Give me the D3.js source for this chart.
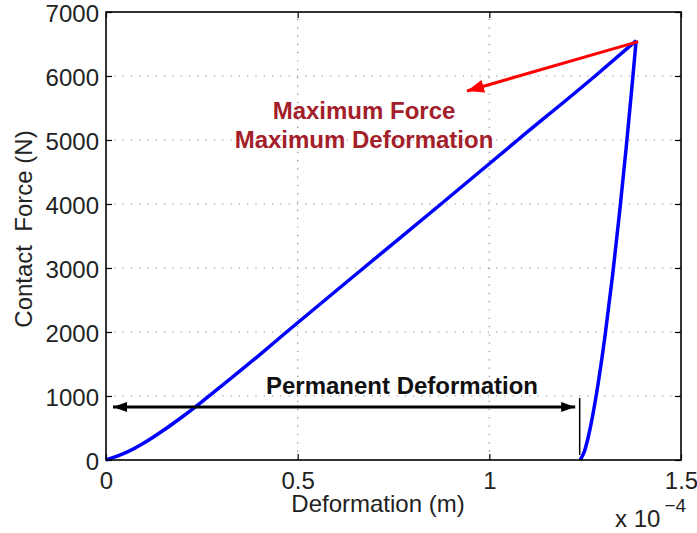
<!DOCTYPE html>
<html>
<head>
<meta charset="utf-8">
<script src="https://cdn.jsdelivr.net/npm/d3@7"></script>
<style>
  html, body { margin: 0; padding: 0; background: #fff; }
  svg { display: block; font-family: "Liberation Sans", Arial, Helvetica, sans-serif; }
</style>
</head>
<body>
<svg id="chart" width="697" height="533"></svg>
<script>
// Loading branch: deformation (×1e-4 m) and contact force (N)
const loadDeformation = [0, 0.05, 0.10, 0.15, 0.20, 0.25, 0.30, 0.40, 0.471, 0.672, 0.874, 1.074, 1.276, 1.383];
const loadForce       = [0, 110, 270, 465, 680, 910, 1150, 1640, 2000, 3000, 4000, 5000, 6000, 6552];

// Unloading branch, from the permanent deformation up to the peak
const unloadDeformation = [1.237, 1.248, 1.260, 1.278, 1.302, 1.322, 1.341, 1.357, 1.370, 1.383];
const unloadForce       = [0, 135, 410, 980, 1950, 2910, 3940, 4880, 5700, 6552];

// Axis ticks
const xTicks = [0, 0.5, 1, 1.5];
const xTickLabels = ["0", "0.5", "1", "1.5"];
const yTicks = [0, 1000, 2000, 3000, 4000, 5000, 6000, 7000];
const yTickLabels = ["0", "1000", "2000", "3000", "4000", "5000", "6000", "7000"];

// Annotated quantities
const peakDeformation = 1.383, peakForce = 6552;
const permanentDeformation = 1.237;
const maxLabelLines = ["Maximum Force", "Maximum Deformation"];
const permanentLabel = "Permanent Deformation";

const svg = d3.select("#chart");
const plotLeft = 106, plotRight = 681, plotTop = 12, plotBottom = 460;

const x = d3.scaleLinear().domain([0, 1.5]).range([plotLeft, plotRight]);
const y = d3.scaleLinear().domain([0, 7000]).range([plotBottom, plotTop]);

const defs = svg.append("defs");
function arrowMarker(id, color, w, h) {
  defs.append("marker")
    .attr("id", id)
    .attr("viewBox", `0 0 ${w} ${h}`)
    .attr("refX", w).attr("refY", h / 2)
    .attr("markerUnits", "userSpaceOnUse")
    .attr("markerWidth", w).attr("markerHeight", h)
    .attr("orient", "auto-start-reverse")
    .append("path")
    .attr("d", `M0,0 L${w},${h / 2} L0,${h} Z`)
    .attr("fill", color);
}
arrowMarker("headBlack", "#000", 14, 10);
arrowMarker("headRed", "#ff0000", 17, 13);

// Dotted grid
const grid = svg.append("g").attr("stroke", "#8a8a8a").attr("stroke-width", 1.2)
  .attr("stroke-dasharray", "1.2,7.1");
grid.selectAll("line.gy").data(yTicks.slice(1, -1)).join("line")
  .attr("x1", plotLeft).attr("x2", plotRight)
  .attr("y1", d => y(d)).attr("y2", d => y(d));
grid.selectAll("line.gx").data(xTicks.slice(1, -1)).join("line")
  .attr("y1", plotBottom).attr("y2", plotTop)
  .attr("x1", d => x(d)).attr("x2", d => x(d));

// Axes with inward ticks on all four sides
const fontSize = 24;
const gx = svg.append("g").attr("transform", `translate(0,${plotBottom})`)
  .call(d3.axisBottom(x).tickValues(xTicks).tickFormat((d, i) => xTickLabels[i])
    .tickSize(-6).tickPadding(12));
const gy = svg.append("g").attr("transform", `translate(${plotLeft},0)`)
  .call(d3.axisLeft(y).tickValues(yTicks).tickFormat((d, i) => yTickLabels[i])
    .tickSize(-6).tickPadding(7));
gy.selectAll(".tick text").attr("dy", "0.4em");
const gxTop = svg.append("g").attr("transform", `translate(0,${plotTop})`)
  .call(d3.axisTop(x).tickValues(xTicks).tickFormat("").tickSize(-6));
const gyRight = svg.append("g").attr("transform", `translate(${plotRight},0)`)
  .call(d3.axisRight(y).tickValues(yTicks).tickFormat("").tickSize(-6));
[gx, gy, gxTop, gyRight].forEach(g => {
  g.select(".domain").remove();
  g.selectAll(".tick line").attr("stroke", "#000").attr("stroke-width", 1.2);
  g.selectAll("text").attr("font-size", fontSize).attr("fill", "#222")
    .attr("font-family", "\"Liberation Sans\", Arial, Helvetica, sans-serif");
});

// Curves
const line = d3.line().x(d => x(d[0])).y(d => y(d[1])).curve(d3.curveMonotoneX);
svg.append("path")
  .datum(d3.zip(loadDeformation, loadForce))
  .attr("d", line).attr("fill", "none").attr("stroke", "#0000ff").attr("stroke-width", 3.5)
  .attr("stroke-linejoin", "round");
svg.append("path")
  .datum(d3.zip(unloadDeformation, unloadForce))
  .attr("d", line).attr("fill", "none").attr("stroke", "#0000ff").attr("stroke-width", 3.5)
  .attr("stroke-linejoin", "round");

// Plot box
svg.append("rect").attr("x", plotLeft).attr("y", plotTop)
  .attr("width", plotRight - plotLeft).attr("height", plotBottom - plotTop)
  .attr("fill", "none").attr("stroke", "#000").attr("stroke-width", 1.6);

// Axis labels
svg.append("text").attr("x", 378).attr("y", 512).attr("text-anchor", "middle")
  .attr("font-size", fontSize).attr("fill", "#222").text("Deformation (m)");
svg.append("text").attr("transform", "translate(32,229) rotate(-90)")
  .attr("text-anchor", "middle").attr("font-size", fontSize).attr("fill", "#222")
  .attr("xml:space", "preserve").style("white-space", "pre")
  .text("Contact  Force (N)");
const mult = svg.append("text").attr("x", 615).attr("y", 527)
  .attr("font-size", fontSize).attr("fill", "#222");
mult.append("tspan").text("x 10");
mult.append("tspan").attr("dx", 4).attr("dy", -15).attr("font-size", 19).text("\u22124");

// Peak annotation
svg.append("line")
  .attr("x1", x(peakDeformation) + 2).attr("y1", y(peakForce) + 1)
  .attr("x2", 467).attr("y2", 91)
  .attr("stroke", "#ff0000").attr("stroke-width", 3)
  .attr("marker-end", "url(#headRed)");
const maxLabel = svg.append("g").attr("font-size", fontSize).attr("font-weight", "bold")
  .attr("fill", "#a3202a").attr("text-anchor", "middle");
maxLabel.selectAll("text").data(maxLabelLines).join("text")
  .attr("x", 364).attr("y", (d, i) => 119 + i * 28.5).text(d => d);

// Permanent deformation annotation
svg.append("line")
  .attr("x1", x(0) + 7).attr("x2", x(permanentDeformation) - 5)
  .attr("y1", 407).attr("y2", 407)
  .attr("stroke", "#000").attr("stroke-width", 3)
  .attr("marker-start", "url(#headBlack)").attr("marker-end", "url(#headBlack)");
svg.append("line")
  .attr("x1", x(permanentDeformation) - 0.5).attr("x2", x(permanentDeformation) - 0.5)
  .attr("y1", 398).attr("y2", 455)
  .attr("stroke", "#000").attr("stroke-width", 1.5);
svg.append("text").attr("x", 402).attr("y", 394).attr("text-anchor", "middle")
  .attr("font-size", fontSize).attr("font-weight", "bold").attr("fill", "#111")
  .text(permanentLabel);
</script>
</body>
</html>
